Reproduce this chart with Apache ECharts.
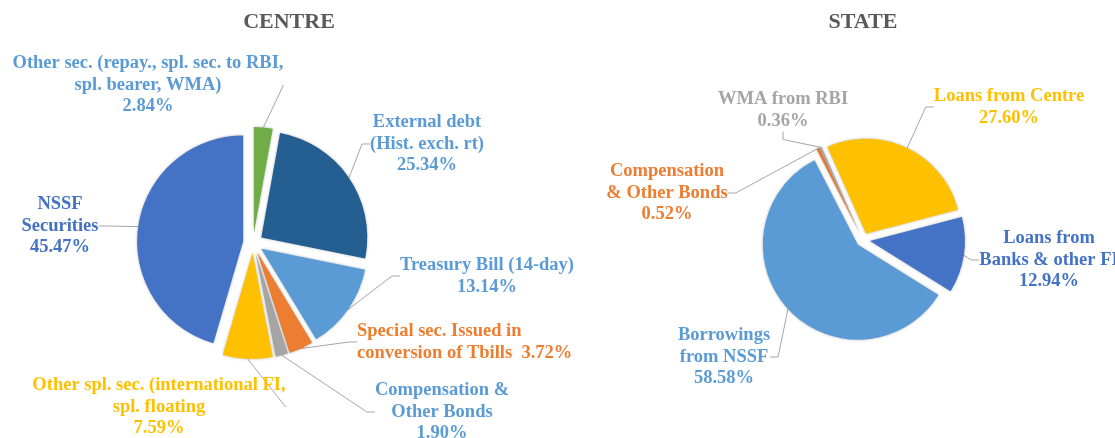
<!DOCTYPE html>
<html>
<head>
<meta charset="utf-8">
<title>Centre / State liabilities</title>
<script src="https://cdn.jsdelivr.net/npm/echarts@6/dist/echarts.min.js"></script>
<style>
  html, body { margin: 0; padding: 0; background: #fff; }
  #main { width: 1115px; height: 438px; }
</style>
</head>
<body>
<div id="main"></div>
<script>
// CENTRE shares (%), clockwise from 12 o'clock
var centreNames = [
  'Other sec. (repay., spl. sec. to RBI,\nspl. bearer, WMA)',
  'External debt\n(Hist. exch. rt)',
  'Treasury Bill (14-day)',
  'Special sec. Issued in\nconversion of Tbills',
  'Compensation &\nOther Bonds',
  'Other spl. sec. (international FI,\nspl. floating',
  'NSSF\nSecurities'
];
var centreValues = [2.84, 25.34, 13.14, 3.72, 1.90, 7.59, 45.47];

// STATE shares (%), clockwise from just left of 12 o'clock
var stateNames = [
  'Loans from Centre',
  'Loans from\nBanks & other FI',
  'Borrowings\nfrom NSSF',
  'Compensation\n& Other Bonds',
  'WMA from RBI'
];
var stateValues = [27.60, 12.94, 58.58, 0.52, 0.36];

// colours
var centreColors = ['#70AD47', '#255E91', '#5B9BD5', '#ED7D31', '#A5A5A5', '#FFC000', '#4472C4'];
var centreLabelColors = ['#5B9BD5', '#5B9BD5', '#5B9BD5', '#ED7D31', '#5B9BD5', '#FFC000', '#4472C4'];
var stateColors = ['#FFC000', '#4472C4', '#5B9BD5', '#ED7D31', '#A5A5A5'];
var stateLabelColors = ['#FFC000', '#4472C4', '#5B9BD5', '#ED7D31', '#A5A5A5'];

// label blocks: x, y (middle of block), alignment
var centreLabelPos = [[148, 85, 'center'], [427, 144, 'center'], [487, 276, 'center'], [357, 342, 'left'],
                      [442, 412, 'center'], [159, 407, 'center'], [60, 226, 'center']];
var stateLabelPos = [[1009, 107, 'center'], [1049, 260, 'center'], [724, 357, 'center'],
                     [667, 193, 'center'], [783, 110, 'center']];

var labelFont = { fontFamily: 'Liberation Serif', fontWeight: 'bold', fontSize: 18.5, lineHeight: 21.5 };

// exploded slices (no labels)
function slicesSeries(names, values, colors, center, radius, startAngle, offset) {
  return {
    type: 'pie',
    z: 3,
    center: center,
    radius: radius,
    startAngle: startAngle,
    clockwise: true,
    selectedMode: 'multiple',
    selectedOffset: offset,
    silent: true,
    label: { show: false },
    labelLine: { show: false },
    itemStyle: { shadowBlur: 3, shadowColor: 'rgba(0,0,0,0.28)' },
    emphasis: { scale: false },
    data: names.map(function (n, i) {
      return { name: n, value: values[i], selected: true, itemStyle: { color: colors[i] } };
    })
  };
}

// invisible copy whose outer edge meets the exploded slices; it carries labels + leader lines
function labelSeries(names, values, labelColors, center, radius, startAngle, pos) {
  return {
    type: 'pie',
    z: 2,
    center: center,
    radius: radius,
    startAngle: startAngle,
    clockwise: true,
    avoidLabelOverlap: false,
    silent: true,
    itemStyle: { color: 'rgba(0,0,0,0)' },
    label: Object.assign({
      show: true,
      position: 'outside',
      overflow: 'none',
      formatter: function (p) {
        // the special securities label keeps its % on the same line
        var sep = p.name.indexOf('Tbills') >= 0 ? '  ' : '\n';
        return p.name + sep + p.value.toFixed(2) + '%';
      }
    }, labelFont),
    labelLine: { show: true, length: 10, length2: 8, lineStyle: { color: '#A6A6A6', width: 1 } },
    labelLayout: function (p) {
      var q = pos[p.dataIndex];
      return { x: q[0], y: q[1], align: q[2], verticalAlign: 'middle' };
    },
    emphasis: { scale: false },
    data: names.map(function (n, i) {
      return { name: n, value: values[i], label: { color: labelColors[i] } };
    })
  };
}

var titleStyle = { fontFamily: 'Liberation Serif', fontWeight: 'bold', fontSize: 22, color: '#595959' };

var chart = echarts.init(document.getElementById('main'));
chart.setOption({
  animation: false,
  backgroundColor: '#fff',
  title: [
    { text: 'CENTRE', left: 289, top: 11, textAlign: 'center', padding: 0, textStyle: titleStyle },
    { text: 'STATE', left: 863, top: 11, textAlign: 'center', padding: 0, textStyle: titleStyle }
  ],
  series: [
    labelSeries(centreNames, centreValues, centreLabelColors, [253, 243], 116, 90, centreLabelPos),
    slicesSeries(centreNames, centreValues, centreColors, [253, 243], 106, 90, 10),
    labelSeries(stateNames, stateValues, stateLabelColors, [863, 240], 102, 114, stateLabelPos),
    slicesSeries(stateNames, stateValues, stateColors, [863, 240], 95, 114, 7)
  ]
});
</script>
</body>
</html>
